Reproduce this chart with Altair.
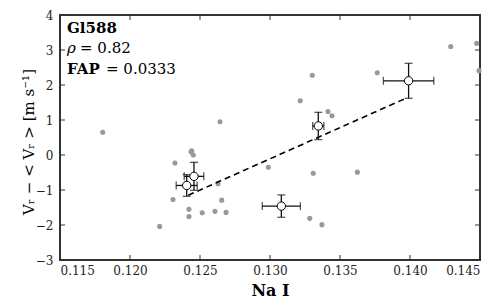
import altair as alt
import pandas as pd

# gray scatter points (Na I index, RV residual)
gray_x = [0.11805, 0.12643, 0.12441, 0.12436, 0.12452, 0.14291, 0.14476, 0.14493,
          0.13302, 0.13766, 0.13216, 0.13414, 0.13443, 0.12321, 0.12629, 0.12307,
          0.12655, 0.12421, 0.12516, 0.12607, 0.12686, 0.12421, 0.12212, 0.12988,
          0.13309, 0.13624, 0.13284, 0.13371]
gray_y = [0.65, 0.95, 0.12, 0.09, 0.00, 3.10, 3.19, 2.41,
          2.28, 2.35, 1.55, 1.24, 1.12, -0.23, -0.82, -1.27,
          -1.29, -1.55, -1.65, -1.61, -1.64, -1.76, -2.04, -0.35,
          -0.52, -0.49, -1.81, -1.99]

# binned points with error bars
bin_x = [0.1399, 0.13345, 0.12457, 0.12405, 0.13081]
bin_y = [2.12, 0.83, -0.61, -0.87, -1.46]
bin_xerr = [0.0018, 0.0004, 0.0007, 0.00075, 0.00136]
bin_yerr = [0.50, 0.39, 0.40, 0.31, 0.32]

# linear fit
fit_x = [0.12416, 0.1397]
fit_y = [-1.15, 1.62]

x_ticks = [0.115, 0.120, 0.125, 0.130, 0.135, 0.140, 0.145]
y_ticks = [-3, -2, -1, 0, 1, 2, 3, 4]

FONT = "DejaVu Serif"
W, H = 420, 245

gray = pd.DataFrame({"x": gray_x, "y": gray_y})
bins = pd.DataFrame({"x": bin_x, "y": bin_y})
bins["xlo"] = bins["x"] - pd.Series(bin_xerr)
bins["xhi"] = bins["x"] + pd.Series(bin_xerr)
bins["ylo"] = bins["y"] - pd.Series(bin_yerr)
bins["yhi"] = bins["y"] + pd.Series(bin_yerr)
fit = pd.DataFrame({"x": fit_x, "y": fit_y})
xt = pd.DataFrame({"t": x_ticks})
yt = pd.DataFrame({"t": y_ticks})

xs = alt.Scale(domain=[0.115, 0.145], nice=False, zero=False)
ys = alt.Scale(domain=[-3, 4], nice=False, zero=False)

xaxis = alt.Axis(title="Na I", values=x_ticks, format=".3f", titleFontWeight="bold",
                 titleFontSize=16, titleY=35, titleBaseline="alphabetic", labelPadding=5)
yaxis = alt.Axis(title="Vᵣ − < Vᵣ > [m s⁻¹]", values=y_ticks, titleFontWeight="normal",
                 titleFontSize=15, titleX=-27, titleY=H / 2 + 4, titleAngle=-90,
                 titleBaseline="alphabetic", titleAlign="center", labelPadding=7,
                 labelExpr="replace(datum.label, '-', '−')")


def X(f):
    return alt.X(f, type="quantitative", scale=xs, axis=xaxis)


def Y(f):
    return alt.Y(f, type="quantitative", scale=ys, axis=yaxis)


pts = alt.Chart(gray).mark_circle(size=26, color="#999999", opacity=1).encode(x=X("x"), y=Y("y"))
line = alt.Chart(fit).mark_line(color="black", strokeDash=[6, 4], strokeWidth=1.6).encode(x=X("x"), y=Y("y"))
hbar = alt.Chart(bins).mark_rule(color="#111", strokeWidth=1.3).encode(x=X("xlo"), x2="xhi", y=Y("y"))
vbar = alt.Chart(bins).mark_rule(color="#111", strokeWidth=1.3).encode(x=X("x"), y=Y("ylo"), y2="yhi")
cap_l = alt.Chart(bins).mark_tick(color="#111", orient="vertical", size=8, thickness=1.3).encode(x=X("xlo"), y=Y("y"))
cap_r = alt.Chart(bins).mark_tick(color="#111", orient="vertical", size=8, thickness=1.3).encode(x=X("xhi"), y=Y("y"))
cap_b = alt.Chart(bins).mark_tick(color="#111", orient="horizontal", size=8, thickness=1.3).encode(x=X("x"), y=Y("ylo"))
cap_t = alt.Chart(bins).mark_tick(color="#111", orient="horizontal", size=8, thickness=1.3).encode(x=X("x"), y=Y("yhi"))
circ = alt.Chart(bins).mark_point(shape="circle", size=70, filled=True, fill="white",
                                  stroke="black", strokeWidth=1, opacity=1).encode(x=X("x"), y=Y("y"))

tk = dict(color="#333333", strokeWidth=1)
xb = alt.Chart(xt).mark_rule(**tk).encode(x=X("t"), y=alt.value(H), y2=alt.value(H - 5))
xtp = alt.Chart(xt).mark_rule(**tk).encode(x=X("t"), y=alt.value(0), y2=alt.value(5))
yl = alt.Chart(yt).mark_rule(**tk).encode(y=Y("t"), x=alt.value(0), x2=alt.value(5))
yr = alt.Chart(yt).mark_rule(**tk).encode(y=Y("t"), x=alt.value(W), x2=alt.value(W - 5))


def txt(s, x, y, weight="normal", style="normal"):
    return alt.Chart(pd.DataFrame({"t": [s]})).mark_text(
        align="left", baseline="alphabetic", font=FONT, fontSize=15,
        fontWeight=weight, fontStyle=style, color="black"
    ).encode(x=alt.value(x), y=alt.value(y), text="t:N")


labels = [
    txt("Gl588", 7, 18, weight="bold"),
    txt("ρ", 7, 38, style="italic"),
    txt("= 0.82", 20, 38),
    txt("FAP", 7, 59, weight="bold"),
    txt("= 0.0333", 46, 59),
]

chart = alt.layer(pts, line, hbar, vbar, cap_l, cap_r, cap_b, cap_t, circ,
                  xb, xtp, yl, yr, *labels).properties(
    width=W, height=H,
    autosize=alt.AutoSizeParams(type="none"),
    padding={"left": 52, "top": 7, "right": 12, "bottom": 40},
).configure_view(stroke="#333333", strokeWidth=2).configure_axis(
    domain=False, ticks=False, grid=False, labelFont=FONT, labelFontSize=12,
    labelColor="#222222", titleFont=FONT, titleColor="black",
)

chart.save("out.html", embed_options={"renderer": "svg", "actions": False})
